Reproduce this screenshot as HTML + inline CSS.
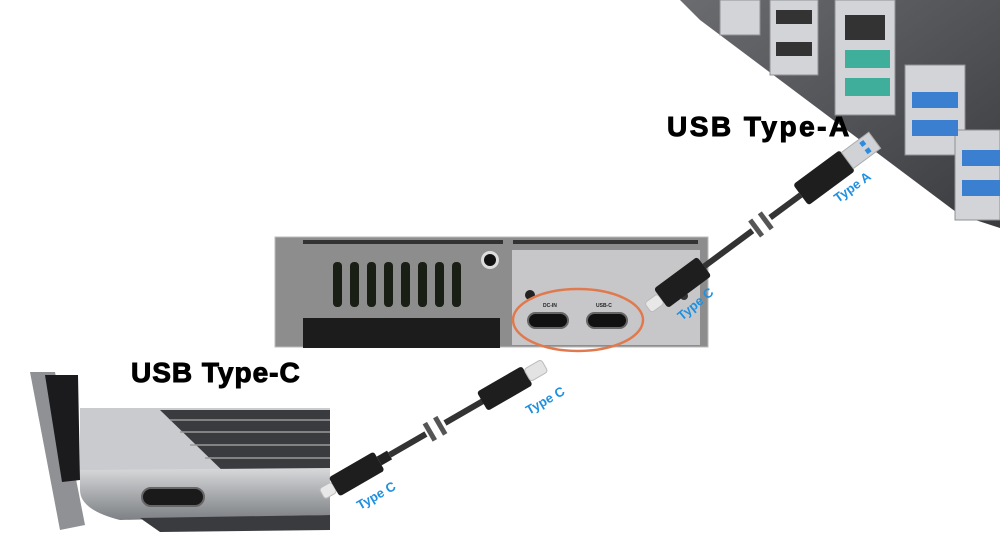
<!DOCTYPE html>
<html><head><style>html,body{margin:0;padding:0;background:#fff;width:1000px;height:550px;overflow:hidden}</style></head>
<body>
<svg width="1000" height="550" viewBox="0 0 1000 550" xmlns="http://www.w3.org/2000/svg" font-family="Liberation Sans, sans-serif">
<defs>
<linearGradient id="lap" x1="0" y1="0" x2="0" y2="1">
<stop offset="0" stop-color="#d8d9db"/><stop offset="0.5" stop-color="#a9abae"/><stop offset="1" stop-color="#7d8084"/></linearGradient>
<linearGradient id="mb" x1="0" y1="0" x2="1" y2="1">
<stop offset="0" stop-color="#6a6c70"/><stop offset="1" stop-color="#3a3b3e"/></linearGradient>
</defs>
<!-- motherboard -->
<polygon points="680,0 1000,0 1000,228 960,215 700,20" fill="url(#mb)"/>
<g fill="#d3d4d7" stroke="#8e9094">
<rect x="720" y="0" width="40" height="35"/>
<rect x="770" y="0" width="48" height="75"/>
<rect x="835" y="0" width="60" height="115"/>
<rect x="905" y="65" width="60" height="90"/>
<rect x="955" y="130" width="45" height="90"/>
</g>
<rect x="845" y="50" width="45" height="18" fill="#3fae9a"/>
<rect x="845" y="78" width="45" height="18" fill="#3fae9a"/>
<rect x="845" y="15" width="40" height="25" fill="#333"/>
<rect x="912" y="92" width="46" height="16" fill="#3b7fd0"/>
<rect x="912" y="120" width="46" height="16" fill="#3b7fd0"/>
<rect x="962" y="150" width="38" height="16" fill="#3b7fd0"/>
<rect x="962" y="180" width="38" height="16" fill="#3b7fd0"/>
<rect x="776" y="10" width="36" height="14" fill="#333"/>
<rect x="776" y="42" width="36" height="14" fill="#333"/>
<!-- enclosure -->
<rect x="275" y="237" width="433" height="110" fill="#8d8d8d" stroke="#bbb"/>
<rect x="303" y="240" width="200" height="4" fill="#333"/>
<rect x="513" y="240" width="185" height="4" fill="#333"/>
<path d="M512,250 H700 V345 H512 Z" fill="#c7c7c9"/>
<g fill="#1a1f15">
<rect x="333" y="262" width="9" height="45" rx="4"/><rect x="350" y="262" width="9" height="45" rx="4"/>
<rect x="367" y="262" width="9" height="45" rx="4"/><rect x="384" y="262" width="9" height="45" rx="4"/>
<rect x="401" y="262" width="9" height="45" rx="4"/><rect x="418" y="262" width="9" height="45" rx="4"/>
<rect x="435" y="262" width="9" height="45" rx="4"/><rect x="452" y="262" width="9" height="45" rx="4"/>
</g>
<circle cx="490" cy="260" r="9" fill="#ddd"/><circle cx="490" cy="260" r="6" fill="#111"/>
<rect x="303" y="318" width="197" height="30" fill="#1c1c1c"/>
<circle cx="530" cy="295" r="5" fill="#222"/><circle cx="684" cy="296" r="4" fill="#333"/>
<text x="543" y="307" font-size="5" font-weight="bold" fill="#222">DC-IN</text>
<text x="596" y="307" font-size="5" font-weight="bold" fill="#222">USB-C</text>
<rect x="528" y="313" width="40" height="15" rx="7.5" fill="#111" stroke="#666" stroke-width="2"/>
<rect x="587" y="313" width="40" height="15" rx="7.5" fill="#111" stroke="#666" stroke-width="2"/>
<ellipse cx="578" cy="320" rx="65" ry="31" fill="none" stroke="#e07a4e" stroke-width="2.5"/>
<!-- laptop -->
<path d="M30,372 L55,372 L85,525 L60,530 Z" fill="#8f9194"/>
<path d="M45,375 L78,375 L80,480 L62,482 Z" fill="#1b1b1d"/>
<path d="M80,408 L330,408 L330,470 L80,470 Z" fill="#c9cbce"/>
<path d="M160,410 L330,410 L330,475 L230,478 Z" fill="#3a3b3e"/>
<g stroke="#999" stroke-width="1.5">
<line x1="170" y1="420" x2="330" y2="420"/><line x1="180" y1="432" x2="330" y2="432"/><line x1="190" y1="445" x2="330" y2="445"/><line x1="205" y1="458" x2="330" y2="458"/></g>
<path d="M80,470 L330,468 L330,515 L120,520 Q80,510 80,490 Z" fill="url(#lap)"/>
<path d="M140,518 L330,515 L330,530 L160,532 Z" fill="#3a3b3e"/>
<rect x="142" y="488" width="62" height="18" rx="9" fill="#1a1a1a" stroke="#666" stroke-width="2"/>
<!-- bottom cable -->
<g transform="translate(322,494) rotate(-30)">
<rect x="0" y="-6" width="14" height="12" rx="3" fill="#e8e8e8" stroke="#bbb"/>
<rect x="14" y="-11" width="52" height="22" rx="3" fill="#1e1e1e"/>
<rect x="66" y="-5" width="12" height="10" fill="#222"/>
<rect x="78" y="-3" width="110" height="6" fill="#333"/>
<rect x="120" y="-12" width="22" height="24" fill="#fff"/>
<rect x="122" y="-10" width="5" height="20" fill="#555"/>
<rect x="134" y="-10" width="5" height="20" fill="#555"/>
<rect x="185" y="-11" width="52" height="22" rx="3" fill="#1e1e1e"/>
<rect x="237" y="-7" width="20" height="14" rx="3" fill="#e3e3e3" stroke="#bbb"/>
</g>
<!-- top cable -->
<g transform="translate(648,308) rotate(-36.5)">
<rect x="0" y="-6" width="16" height="12" rx="3" fill="#e8e8e8" stroke="#bbb"/>
<rect x="16" y="-12" width="54" height="24" rx="3" fill="#1e1e1e"/>
<rect x="70" y="-3" width="120" height="6" fill="#333"/>
<rect x="130" y="-12" width="22" height="24" fill="#fff"/>
<rect x="132" y="-10" width="5" height="20" fill="#555"/>
<rect x="144" y="-10" width="5" height="20" fill="#555"/>
<rect x="190" y="-13" width="58" height="26" rx="3" fill="#1e1e1e"/>
<rect x="248" y="-10" width="34" height="20" fill="#d0d2d5" stroke="#aaa"/>
<rect x="268" y="-7" width="5" height="5" fill="#2d8be0"/><rect x="268" y="2" width="5" height="5" fill="#2d8be0"/>
</g>
<!-- labels -->
<text x="667" y="136" font-size="28" font-weight="bold" letter-spacing="2.5" fill="#000" stroke="#000" stroke-width="1">USB Type-A</text>
<text x="131" y="382" font-size="28" font-weight="bold" letter-spacing="1" fill="#000" stroke="#000" stroke-width="1">USB Type-C</text>
<g font-size="13" font-weight="bold" fill="#1e90e0">
<text transform="translate(838,203) rotate(-36)">Type A</text>
<text transform="translate(682,321) rotate(-40)">Type C</text>
<text transform="translate(529,415) rotate(-30)">Type C</text>
<text transform="translate(360,510) rotate(-30)">Type C</text>
</g>
</svg>
</body></html>
